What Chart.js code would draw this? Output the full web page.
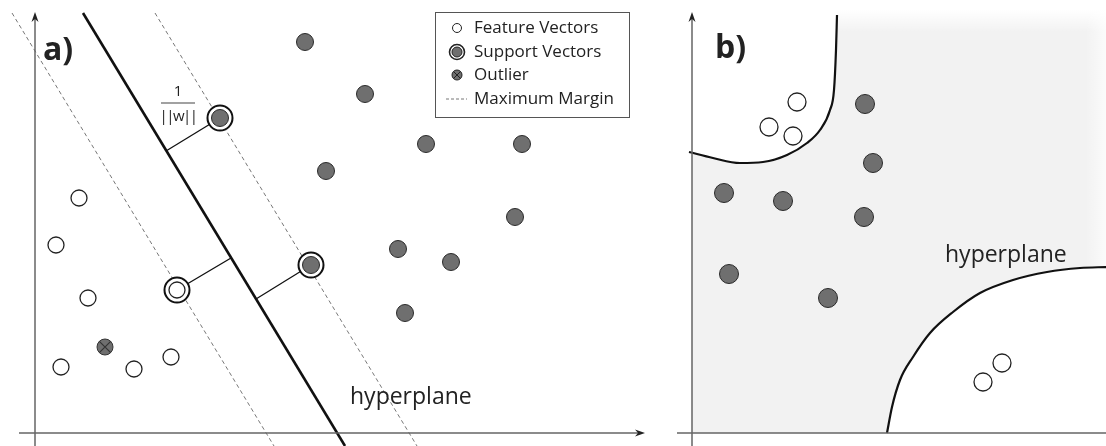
<!DOCTYPE html>
<html>
<head>
<meta charset="utf-8">
<script src="https://cdn.jsdelivr.net/npm/chart.js@4.4.1/dist/chart.umd.min.js"></script>
<style>
  html, body { margin: 0; padding: 0; background: #fff; }
  #wrap { position: relative; width: 1106px; height: 446px; }
  #boxA { position: absolute; left: 0; top: 0; width: 660px; height: 446px; }
  #boxB { position: absolute; left: 660px; top: 0; width: 446px; height: 446px; }
</style>
</head>
<body>
<div id="wrap">
  <div id="boxA"><canvas id="chartA"></canvas></div>
  <div id="boxB"><canvas id="chartB"></canvas></div>
</div>
<script>
// ---- panel a) linear SVM ----
const featureX = [4.4, 2.1, 5.3, 2.6, 9.9, 13.6, 14.2];
const featureY = [23.5, 18.8, 13.5, 6.6, 6.4, 7.6, 14.3];
const classX = [27.0, 33.0, 39.1, 48.7, 29.1, 48.0, 36.3, 41.6, 37.0, 18.5, 27.6];
const classY = [39.1, 33.9, 28.9, 28.9, 26.2, 21.6, 18.4, 17.1, 12.0, 31.5, 16.8];
const supportX = [18.5, 14.2, 27.6];
const supportY = [31.5, 14.3, 16.8];
const outlierX = [7.0];
const outlierY = [8.6];
const hyperplaneX = [4.8, 31.0];
const hyperplaneY = [42.0, -1.3];
const marginLowX = [-2.3, 23.9];
const marginLowY = [42.0, -1.3];
const marginHighX = [12.0, 38.2];
const marginHighY = [42.0, -1.3];
const distanceX = [[18.5, 13.1], [14.2, 19.6], [27.6, 22.1]];
const distanceY = [[31.5, 28.2], [14.3, 17.5], [16.8, 13.4]];
const legendLabels = ['Feature Vectors', 'Support Vectors', 'Outlier', 'Maximum Margin'];

// ---- panel b) non-linear boundary ----
const bOpenX = [10.5, 7.7, 10.1, 31.0, 29.1];
const bOpenY = [33.1, 30.6, 29.7, 7.0, 5.1];
const bClassX = [17.3, 18.1, 3.2, 9.1, 17.2, 3.7, 13.6];
const bClassY = [32.9, 27.0, 24.0, 23.2, 21.6, 15.9, 13.5];
const curveTopX = [-0.3, 2.1, 4.8, 7.1, 9.5, 11.5, 12.8, 13.8, 14.2, 14.4, 14.5];
const curveTopY = [28.1, 27.5, 27.0, 27.1, 27.8, 29.0, 30.3, 32.3, 34.3, 38.3, 41.8];
const curveBottomX = [19.5, 20.0, 20.8, 22.1, 23.8, 26.1, 28.8, 32.1, 35.5, 38.8, 41.5];
const curveBottomY = [0, 2.6, 5.3, 7.6, 10.0, 12.1, 14.0, 15.3, 16.1, 16.5, 16.6];

const FONT = '"Open Sans", "DejaVu Sans", sans-serif';
const GRAY = '#6f6f6f';

function pts(xs, ys) {
    return xs.map((x, i) => ({ x: x, y: ys[i] }));
}

function px(chart, x, y) {
    return [chart.scales.x.getPixelForValue(x), chart.scales.y.getPixelForValue(y)];
}

// axes with arrow heads, crossing at (0,0)
function drawAxes(chart, xFrom, xTo, yTo) {
    const ctx = chart.ctx;
    const [ox, oy] = px(chart, 0, 0);
    const [x0] = px(chart, xFrom, 0);
    const [x1] = px(chart, xTo, 0);
    const [, y1] = px(chart, 0, yTo);
    const bottom = chart.height;
    ctx.save();
    ctx.strokeStyle = '#666';
    ctx.lineWidth = 1.5;
    ctx.beginPath();
    ctx.moveTo(x0, oy); ctx.lineTo(x1 - 4, oy);
    ctx.moveTo(ox, bottom); ctx.lineTo(ox, y1 + 4);
    ctx.stroke();
    ctx.fillStyle = '#222';
    ctx.beginPath();
    ctx.moveTo(x1, oy); ctx.lineTo(x1 - 10, oy - 3.5); ctx.lineTo(x1 - 7, oy); ctx.lineTo(x1 - 10, oy + 3.5);
    ctx.closePath(); ctx.fill();
    ctx.beginPath();
    ctx.moveTo(ox, y1); ctx.lineTo(ox - 3.5, y1 + 10); ctx.lineTo(ox, y1 + 7); ctx.lineTo(ox + 3.5, y1 + 10);
    ctx.closePath(); ctx.fill();
    ctx.restore();
}

function text(chart, str, x, y, font, align, base, spacing) {
    const ctx = chart.ctx;
    const [tx, ty] = px(chart, x, y);
    ctx.save();
    ctx.font = font;
    ctx.fillStyle = '#222';
    ctx.textAlign = align;
    ctx.textBaseline = base;
    if (spacing) ctx.letterSpacing = spacing;
    ctx.fillText(str, tx, ty);
    ctx.restore();
}

const baseOptions = (xmin, xmax) => ({
    responsive: true,
    maintainAspectRatio: false,
    animation: false,
    layout: { padding: 0, autoPadding: false },
    scales: {
        x: { type: 'linear', display: false, min: xmin, max: xmax },
        y: { type: 'linear', display: false, min: -1.3, max: 43.3 }
    },
    plugins: { legend: { display: false }, tooltip: { enabled: false } },
    elements: { line: { tension: 0 } }
});

function lineSet(xs, ys, color, width, dash, order) {
    return {
        data: pts(xs, ys), showLine: true, pointRadius: 0, borderColor: color,
        borderWidth: width, borderDash: dash, fill: false, order: order
    };
}

// annotations for panel a
const panelAExtras = {
    id: 'panelAExtras',
    afterDatasetsDraw(chart) {
        const ctx = chart.ctx;
        drawAxes(chart, -1.6, 61.0, 42.1);
        text(chart, 'a)', 0.8, 37.3, 'bold 32px ' + FONT, 'left', 'alphabetic');
        text(chart, 'hyperplane', 31.5, 3.6, '23px ' + FONT, 'left', 'middle');
        // 1/||w|| label
        text(chart, '1', 14.3, 34.1, '15px ' + FONT, 'center', 'middle');
        text(chart, '||w||', 14.3, 31.6, '15px ' + FONT, 'center', 'middle', '-1.5px');
        const [b0x, by] = px(chart, 12.6, 33.0);
        const [b1x] = px(chart, 16.0, 33.0);
        ctx.save();
        ctx.strokeStyle = '#444'; ctx.lineWidth = 1.2;
        ctx.beginPath(); ctx.moveTo(b0x, by); ctx.lineTo(b1x, by); ctx.stroke();
        ctx.restore();

        // legend box
        const [lx0, ly0] = px(chart, 40.0, 42.1);
        const [lx1, ly1] = px(chart, 59.4, 31.6);
        ctx.save();
        ctx.fillStyle = '#fff';
        ctx.fillRect(lx0, ly0, lx1 - lx0, ly1 - ly0);
        ctx.strokeStyle = '#555'; ctx.lineWidth = 1;
        ctx.strokeRect(lx0 + 0.5, ly0 + 0.5, lx1 - lx0, ly1 - ly0);
        const ix = lx0 + 22, tx = lx0 + 39;
        const rows = [ly0 + 16, ly0 + 40, ly0 + 63, ly0 + 87];
        ctx.strokeStyle = '#222';
        // feature vector icon
        ctx.lineWidth = 1; ctx.fillStyle = '#fff';
        ctx.beginPath(); ctx.arc(ix, rows[0], 4.5, 0, Math.PI * 2); ctx.fill(); ctx.stroke();
        // support vector icon
        ctx.lineWidth = 1.6;
        ctx.beginPath(); ctx.arc(ix, rows[1], 7.5, 0, Math.PI * 2); ctx.stroke();
        ctx.fillStyle = GRAY; ctx.lineWidth = 1;
        ctx.beginPath(); ctx.arc(ix, rows[1], 5, 0, Math.PI * 2); ctx.fill(); ctx.stroke();
        // outlier icon
        ctx.beginPath(); ctx.arc(ix, rows[2], 5, 0, Math.PI * 2); ctx.fill(); ctx.stroke();
        ctx.beginPath();
        ctx.moveTo(ix - 3.5, rows[2] - 3.5); ctx.lineTo(ix + 3.5, rows[2] + 3.5);
        ctx.moveTo(ix + 3.5, rows[2] - 3.5); ctx.lineTo(ix - 3.5, rows[2] + 3.5);
        ctx.stroke();
        // margin icon
        ctx.strokeStyle = '#777'; ctx.setLineDash([3, 2]);
        ctx.beginPath(); ctx.moveTo(ix - 11, rows[3]); ctx.lineTo(ix + 10, rows[3]); ctx.stroke();
        ctx.setLineDash([]);
        ctx.fillStyle = '#222'; ctx.font = '17px ' + FONT;
        ctx.textAlign = 'left'; ctx.textBaseline = 'middle';
        legendLabels.forEach((l, i) => ctx.fillText(l, tx, rows[i]));
        ctx.restore();
    }
};

new Chart(document.getElementById('chartA').getContext('2d'), {
    type: 'scatter',
    data: {
        datasets: [
            { data: pts(outlierX, outlierY), pointStyle: 'crossRot', pointRadius: 8, borderColor: '#333', borderWidth: 1.2, order: 0 },
            { data: pts(outlierX, outlierY), pointRadius: 8, backgroundColor: GRAY, borderColor: '#333', borderWidth: 1, order: 1 },
            { data: pts(featureX, featureY), pointRadius: 8, backgroundColor: '#fff', borderColor: '#222', borderWidth: 1.3, order: 2 },
            { data: pts(classX, classY), pointRadius: 8.5, backgroundColor: GRAY, borderColor: '#2a2a2a', borderWidth: 1, order: 3 },
            { data: pts(supportX, supportY), pointRadius: 12.5, backgroundColor: '#fff', borderColor: '#111', borderWidth: 2, order: 4 },
            lineSet(distanceX[0], distanceY[0], '#111', 1.3, [], 5),
            lineSet(distanceX[1], distanceY[1], '#111', 1.3, [], 5),
            lineSet(distanceX[2], distanceY[2], '#111', 1.3, [], 5),
            lineSet(hyperplaneX, hyperplaneY, '#111', 2.6, [], 6),
            lineSet(marginLowX, marginLowY, '#777', 1, [4, 3], 7),
            lineSet(marginHighX, marginHighY, '#777', 1, [4, 3], 7)
        ]
    },
    options: baseOptions(-3.5, 62.5),
    plugins: [panelAExtras]
});

// shading and annotations for panel b
const panelBExtras = {
    id: 'panelBExtras',
    beforeDraw(chart) {
        const ctx = chart.ctx;
        const [x0, y0] = px(chart, 0, 0);
        const right = chart.width, top = 10;
        ctx.save();
        ctx.fillStyle = '#f2f2f2';
        ctx.fillRect(x0, top, right - x0, y0 - top);
        let g = ctx.createLinearGradient(0, top, 0, top + 22);
        g.addColorStop(0, 'rgba(255,255,255,1)');
        g.addColorStop(1, 'rgba(255,255,255,0)');
        ctx.fillStyle = g;
        ctx.fillRect(x0, top, right - x0, 22);
        g = ctx.createLinearGradient(right - 20, 0, right, 0);
        g.addColorStop(0, 'rgba(255,255,255,0)');
        g.addColorStop(1, 'rgba(255,255,255,0.7)');
        ctx.fillStyle = g;
        ctx.fillRect(right - 20, top, 20, y0 - top);
        ctx.restore();
    },
    afterDatasetsDraw(chart) {
        drawAxes(chart, -1.5, 42.5, 42.1);
        text(chart, 'b)', 2.3, 37.5, 'bold 32px ' + FONT, 'left', 'alphabetic');
        text(chart, 'hyperplane', 25.3, 17.8, '23px ' + FONT, 'left', 'middle');
    }
};

new Chart(document.getElementById('chartB').getContext('2d'), {
    type: 'scatter',
    data: {
        datasets: [
            { data: pts(bOpenX, bOpenY), pointRadius: 9, backgroundColor: '#fff', borderColor: '#222', borderWidth: 1.3, order: 0 },
            { data: pts(bClassX, bClassY), pointRadius: 9.5, backgroundColor: GRAY, borderColor: '#2a2a2a', borderWidth: 1, order: 1 },
            { data: pts(curveTopX, curveTopY), showLine: true, pointRadius: 0, cubicInterpolationMode: 'monotone',
              borderColor: '#111', borderWidth: 2.2, fill: 'end', backgroundColor: '#fff', order: 2 },
            { data: pts(curveBottomX, curveBottomY), showLine: true, pointRadius: 0, cubicInterpolationMode: 'monotone',
              borderColor: '#111', borderWidth: 2.2, fill: 'start', backgroundColor: '#fff', order: 3 }
        ]
    },
    options: baseOptions(-3.2, 41.4),
    plugins: [panelBExtras]
});
</script>
</body>
</html>
